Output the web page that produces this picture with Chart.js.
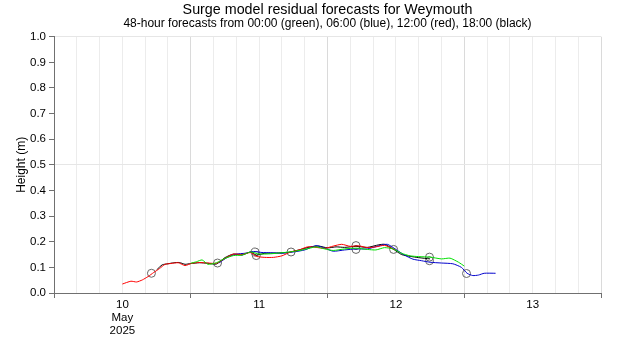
<!DOCTYPE html>
<html>
<head>
<meta charset="utf-8">
<script src="https://cdn.jsdelivr.net/npm/chart.js@4/dist/chart.umd.min.js"></script>
<style>
  html, body { margin: 0; padding: 0; background: #fff; }
  #wrap { width: 620px; height: 350px; }
</style>
</head>
<body>
<div id="wrap"><canvas id="surge-chart"></canvas></div>
<script>
// Hours counted from 10 May 2025 00:00
const dayLabels = { 12: ["10", "May", "2025"], 36: "11", 60: "12", 84: "13" };

// 12:00 forecast (red)
const redHours = [12, 13.5, 14.5, 15.5, 16.5, 17.5, 18.5, 19.5, 20.5, 21.8, 23, 24.2, 25.5, 27, 28.5, 30, 31.5, 33, 34.5, 35.5, 37, 38.5, 40, 41.5, 43, 44.5, 46, 47.5, 49, 50.5, 52, 53.5, 55, 56.5, 58, 59.5, 60];
const redValues = [0.035, 0.046, 0.043, 0.051, 0.064, 0.08, 0.095, 0.112, 0.115, 0.118, 0.107, 0.116, 0.119, 0.117, 0.116, 0.135, 0.152, 0.15, 0.158, 0.143, 0.139, 0.139, 0.145, 0.16, 0.168, 0.18, 0.178, 0.174, 0.183, 0.19, 0.182, 0.184, 0.177, 0.18, 0.186, 0.172, 0.168];

// 18:00 forecast (black)
const blackHours = [18, 19, 20, 21, 22, 23, 24, 25.5, 27, 28.5, 30, 31.5, 33, 34.5, 35.5, 37, 39, 41, 43, 45, 46.5, 48, 49.5, 51, 53, 55, 57, 58, 59.5, 61, 62.5, 64, 66];
const blackValues = [0.09, 0.11, 0.114, 0.118, 0.119, 0.112, 0.115, 0.118, 0.116, 0.113, 0.138, 0.152, 0.148, 0.16, 0.148, 0.155, 0.156, 0.158, 0.168, 0.18, 0.183, 0.176, 0.18, 0.178, 0.182, 0.178, 0.188, 0.19, 0.172, 0.15, 0.143, 0.138, 0.133];

// 00:00 forecast (green)
const greenHours = [24, 25, 26, 27, 28.5, 30, 31.5, 33, 34.5, 36, 38, 40, 42, 44, 46, 47.5, 49, 51, 53, 55, 56.5, 58, 59.5, 61, 62.5, 64, 66, 68, 69.5, 71, 72];
const greenValues = [0.116, 0.122, 0.129, 0.112, 0.118, 0.135, 0.146, 0.148, 0.16, 0.152, 0.153, 0.157, 0.162, 0.17, 0.18, 0.172, 0.166, 0.172, 0.175, 0.17, 0.168, 0.177, 0.172, 0.155, 0.145, 0.142, 0.14, 0.133, 0.136, 0.12, 0.105];

// 06:00 forecast (blue)
const blueHours = [29, 30.5, 32, 33.5, 35, 36.5, 38, 40, 42, 44, 46, 47.5, 49, 51, 53, 55, 57, 58.5, 60, 61.5, 63, 64.5, 66, 68, 70, 71.5, 72.5, 73.5, 74.5, 75.5, 77.5];
const blueValues = [0.118, 0.14, 0.152, 0.155, 0.162, 0.158, 0.157, 0.155, 0.16, 0.168, 0.185, 0.175, 0.163, 0.168, 0.172, 0.172, 0.184, 0.19, 0.17, 0.148, 0.132, 0.126, 0.12, 0.117, 0.114, 0.1, 0.077, 0.068, 0.07, 0.077, 0.077];

// open circles
const circleHours = [17.1, 28.7, 35.3, 35.5, 41.6, 53, 53, 59.6, 65.9, 65.9, 72.4];
const circleValues = [0.077, 0.117, 0.16, 0.146, 0.16, 0.185, 0.17, 0.17, 0.14, 0.126, 0.076];

function toPoints(xs, ys) {
    return xs.map((x, i) => ({ x: x, y: ys[i] }));
}

function line(label, xs, ys, color) {
    return {
        label: label,
        data: toPoints(xs, ys),
        borderColor: color,
        borderWidth: 1,
        pointRadius: 0,
        tension: 0.2,
        fill: false
    };
}

const font = "'Liberation Sans', Arial, sans-serif";

const ctx = document.getElementById("surge-chart").getContext("2d");

const surgeChart = new Chart(ctx, {
    type: 'line',
    data: {
        datasets: [
            line('00:00', greenHours, greenValues, '#00e000'),
            line('12:00', redHours, redValues, '#ff0000'),
            line('06:00', blueHours, blueValues, '#0000cc'),
            line('18:00', blackHours, blackValues, '#000000'),
            {
                type: 'scatter',
                label: 'circles',
                data: toPoints(circleHours, circleValues),
                showLine: false,
                pointRadius: 4,
                pointBorderWidth: 1,
                borderColor: '#666666',
                backgroundColor: 'rgba(0,0,0,0)'
            }
        ]
    },
    options: {
        responsive: true,
        maintainAspectRatio: false,
        animation: false,
        layout: { padding: { left: 0, right: 19, top: 0, bottom: 0 } },
        plugins: {
            legend: { display: false },
            tooltip: { enabled: false },
            title: {
                display: true,
                fullSize: false,
                text: 'Surge model residual forecasts for Weymouth',
                color: '#000',
                font: { family: font, size: 14.3, weight: 'normal', lineHeight: 1.1 },
                padding: { top: 2, bottom: 0 }
            },
            subtitle: {
                display: true,
                fullSize: false,
                text: '48-hour forecasts from 00:00 (green), 06:00 (blue), 12:00 (red), 18:00 (black)',
                color: '#000',
                font: { family: font, size: 12, lineHeight: 1.0 },
                padding: { top: 0, bottom: 7 }
            }
        },
        scales: {
            x: {
                type: 'linear',
                min: 0,
                max: 96,
                afterFit: function(scale) { scale.height = 57; },
                border: { color: '#707070' },
                grid: {
                    color: c => (c.tick && c.tick.value % 24 === 0) ? '#dadada' : '#ececec',
                    tickColor: c => (c.tick && c.tick.value % 24 === 0) ? '#707070' : 'rgba(0,0,0,0)',
                    tickLength: 5
                },
                ticks: {
                    stepSize: 4,
                    autoSkip: false,
                    maxRotation: 0,
                    color: '#000',
                    padding: 1,
                    font: { family: font, size: 11.5, lineHeight: 1.1 },
                    callback: v => dayLabels[v] || ''
                }
            },
            y: {
                min: 0,
                max: 1,
                afterFit: function(scale) { scale.width = 54; },
                border: { color: '#707070' },
                grid: {
                    color: c => (c.tick && (Math.abs(c.tick.value - 0.5) < 1e-6 || Math.abs(c.tick.value - 1) < 1e-6)) ? '#e6e6e6' : 'rgba(0,0,0,0)',
                    tickColor: '#707070',
                    tickLength: 5
                },
                ticks: {
                    stepSize: 0.1,
                    color: '#000',
                    padding: 3,
                    font: { family: font, size: 11.5 },
                    callback: v => v.toFixed(1)
                },
                title: {
                    display: true,
                    text: 'Height (m)',
                    color: '#000',
                    font: { family: font, size: 12 },
                    padding: { top: 14, bottom: 0 }
                }
            }
        }
    }
});
</script>
</body>
</html>
